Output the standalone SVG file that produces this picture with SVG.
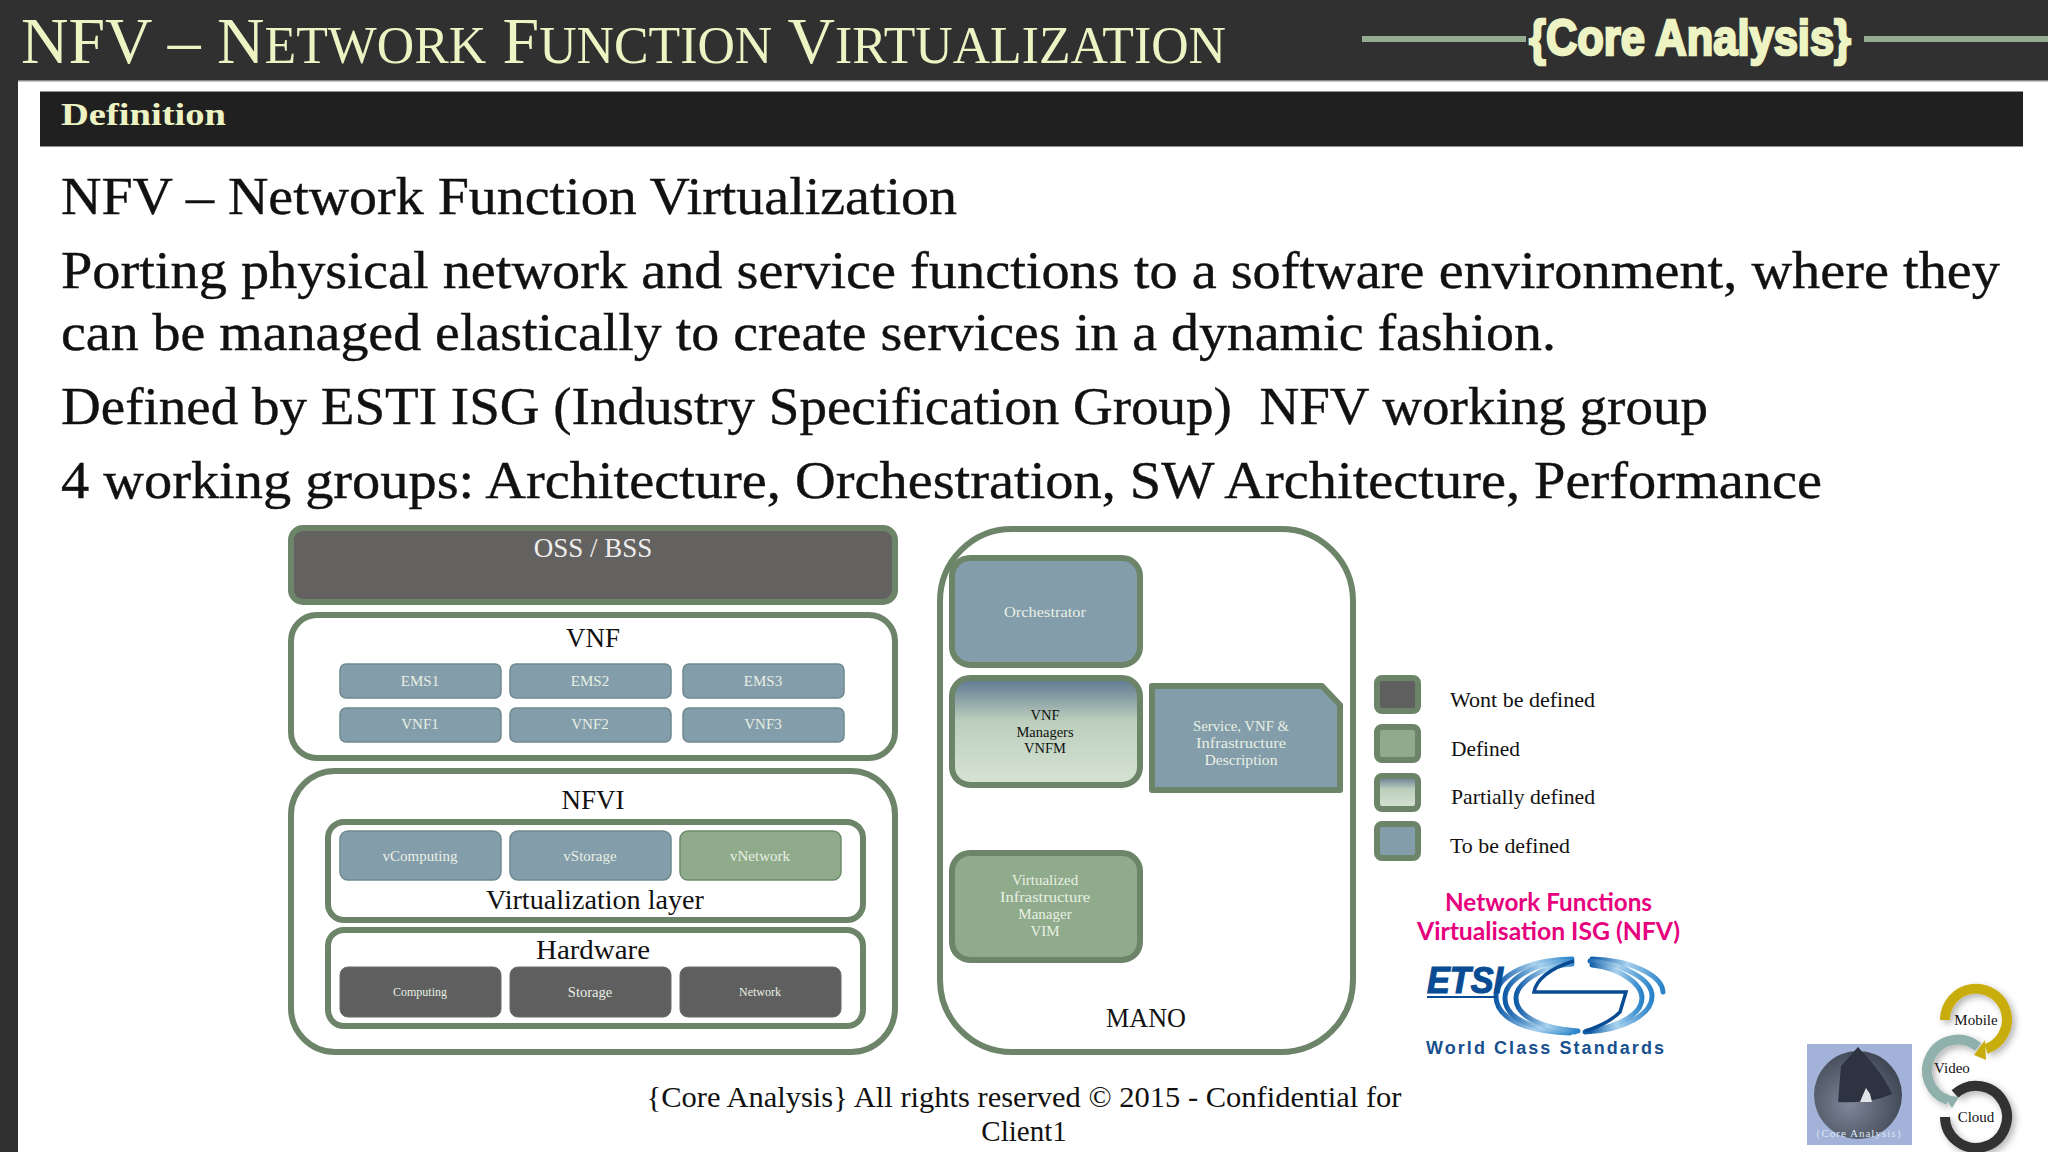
<svg xmlns="http://www.w3.org/2000/svg" width="2048" height="1152" viewBox="0 0 2048 1152">
<defs>
<linearGradient id="part" x1="0" y1="0" x2="0" y2="1"><stop offset="0" stop-color="#5c7690"/><stop offset="0.4" stop-color="#bccfbc"/><stop offset="1" stop-color="#d6e3d3"/></linearGradient>
<linearGradient id="etsiA" x1="0" y1="0" x2="1" y2="0"><stop offset="0" stop-color="#0d5aa7"/><stop offset="0.5" stop-color="#a9d2ee"/><stop offset="1" stop-color="#2a83c9"/></linearGradient>
<radialGradient id="sph" cx="0.4" cy="0.6" r="0.7"><stop offset="0" stop-color="#7d8799"/><stop offset="1" stop-color="#3a404c"/></radialGradient>
<filter id="sh" x="-30%" y="-30%" width="160%" height="160%"><feDropShadow dx="3" dy="3" stdDeviation="3.5" flood-color="#000" flood-opacity="0.3"/></filter>
<style>
text{font-family:"Liberation Serif","Times New Roman",serif}
.b{fill:#849dab;stroke:#6f8890;stroke-width:1.5}
.g{fill:#8fab8b;stroke:#6f8a6c;stroke-width:1.5}
.d{fill:#5f5f5f;stroke:#6a6a6a;stroke-width:1}
.c{fill:#fff;stroke:#6c8468;stroke-width:6}
.m{stroke:#6c8468;stroke-width:6}
.lg{stroke:#6c8468;stroke-width:6}
.t{text-anchor:middle;fill:#e8f0e4;font-size:15px}
.k{text-anchor:middle;fill:#111;font-size:27px}
.w{fill:#111;font-size:21px}
.body{fill:#111;font-size:52px;stroke:#111;stroke-width:.4}
.foot{fill:#111;font-size:29px;text-anchor:middle}
.cap{fill:#eef3c4}
.r{fill:none;stroke-width:10}
.s{fill:#111;font-size:14.5px;text-anchor:middle}
</style>
</defs>
<rect width="2048" height="1152" fill="#fff"/>
<g id="frame">
<rect width="2048" height="81" fill="#303030"/>
<rect y="80" width="2048" height="1.5" fill="#8a8a8a"/>
<rect width="18" height="1152" fill="#303030"/>
<rect x="40" y="91.5" width="1983" height="55" fill="#202020"/>
<rect x="1362" y="36" width="164" height="6" fill="#93ab8f"/>
<rect x="1864" y="36" width="184" height="6" fill="#93ab8f"/>
</g>
<g id="header">
<text class="cap" x="21" y="63" font-size="66" textLength="1205" lengthAdjust="spacingAndGlyphs">NFV – N<tspan font-size="52">ETWORK</tspan> F<tspan font-size="52">UNCTION</tspan> V<tspan font-size="52">IRTUALIZATION</tspan></text>
<text class="cap" x="1529" y="55" font-size="50" font-weight="700" stroke="#eef3c4" stroke-width="2.5" textLength="322" lengthAdjust="spacingAndGlyphs" style="font-family:'Liberation Sans',Arial,sans-serif">{Core Analysis}</text>
<text class="cap" x="61" y="125" font-size="32" font-weight="700" textLength="165" lengthAdjust="spacingAndGlyphs">Definition</text>
</g>
<g id="body-text">
<text class="body" x="61" y="214" textLength="896" lengthAdjust="spacingAndGlyphs">NFV – Network Function Virtualization</text>
<text class="body" x="61" y="288" textLength="1939" lengthAdjust="spacingAndGlyphs">Porting physical network and service functions to a software environment, where they</text>
<text class="body" x="61" y="350" textLength="1495" lengthAdjust="spacingAndGlyphs">can be managed elastically to create services in a dynamic fashion.</text>
<text class="body" x="61" y="424" textLength="1647" lengthAdjust="spacingAndGlyphs" xml:space="preserve">Defined by ESTI ISG (Industry Specification Group)  NFV working group</text>
<text class="body" x="61" y="498" textLength="1761" lengthAdjust="spacingAndGlyphs">4 working groups: Architecture, Orchestration, SW Architecture, Performance</text>
</g>
<g id="oss"><rect x="291" y="528" width="604" height="74" rx="12" fill="#636260" class="m"/><text x="593" y="557" text-anchor="middle" font-size="27" fill="#eee">OSS / BSS</text></g>
<g id="vnf"><rect class="c" x="291" y="615" width="604" height="143" rx="26"/><text class="k" x="593" y="647">VNF</text></g>
<g id="ems1"><rect class="b" x="340" y="664" width="161" height="34" rx="6"/><text class="t" x="420" y="686">EMS1</text></g>
<g id="ems2"><rect class="b" x="510" y="664" width="161" height="34" rx="6"/><text class="t" x="590" y="686">EMS2</text></g>
<g id="ems3"><rect class="b" x="683" y="664" width="161" height="34" rx="6"/><text class="t" x="763" y="686">EMS3</text></g>
<g id="vnf1"><rect class="b" x="340" y="708" width="161" height="34" rx="6"/><text class="t" x="420" y="729">VNF1</text></g>
<g id="vnf2"><rect class="b" x="510" y="708" width="161" height="34" rx="6"/><text class="t" x="590" y="729">VNF2</text></g>
<g id="vnf3"><rect class="b" x="683" y="708" width="161" height="34" rx="6"/><text class="t" x="763" y="729">VNF3</text></g>
<g id="nfvi"><rect class="c" x="291" y="771" width="604" height="281" rx="44"/><text class="k" x="593" y="809">NFVI</text></g>
<g id="virt"><rect class="c" x="328" y="822" width="535" height="98" rx="16"/><text class="k" x="595" y="909" textLength="218" lengthAdjust="spacingAndGlyphs">Virtualization layer</text></g>
<g id="vcomputing"><rect class="b" x="340" y="831" width="161" height="49" rx="8"/><text class="t" x="420" y="861">vComputing</text></g>
<g id="vstorage"><rect class="b" x="510" y="831" width="161" height="49" rx="8"/><text class="t" x="590" y="861">vStorage</text></g>
<g id="vnetwork"><rect class="g" x="680" y="831" width="161" height="49" rx="8"/><text class="t" x="760" y="861">vNetwork</text></g>
<g id="hardware"><rect class="c" x="328" y="930" width="535" height="96" rx="16"/><text class="k" x="593" y="959" textLength="114" lengthAdjust="spacingAndGlyphs">Hardware</text></g>
<g id="computing"><rect class="d" x="340" y="967" width="161" height="50" rx="8"/><text class="t" x="420" y="996" style="font-size:12px">Computing</text></g>
<g id="storage"><rect class="d" x="510" y="967" width="161" height="50" rx="8"/><text class="t" x="590" y="997" style="font-size:14.5px">Storage</text></g>
<g id="network"><rect class="d" x="680" y="967" width="161" height="50" rx="8"/><text class="t" x="760" y="996" style="font-size:12px">Network</text></g>
<g id="mano"><rect class="c" x="940" y="529" width="413" height="523" rx="72"/><text class="k" x="1146" y="1027" textLength="80" lengthAdjust="spacingAndGlyphs">MANO</text></g>
<g id="orchestrator"><rect class="m" x="952" y="558" width="188" height="107" rx="18" fill="#849dab"/><text class="t" x="1045" y="617" textLength="82" lengthAdjust="spacingAndGlyphs">Orchestrator</text></g>
<g id="vnfm"><rect class="m" x="952" y="678" width="188" height="107" rx="18" fill="url(#part)"/><text class="s" x="1045" y="720">VNF</text><text class="s" x="1045" y="737">Managers</text><text class="s" x="1045" y="753">VNFM</text></g>
<g id="catalog"><path class="m" d="M1152 686H1322L1340 705V790H1152Z" fill="#849dab" stroke-linejoin="round"/><text class="t" x="1241" y="731" textLength="96" lengthAdjust="spacingAndGlyphs">Service, VNF &amp;</text><text class="t" x="1241" y="748" textLength="90" lengthAdjust="spacingAndGlyphs">Infrastructure</text><text class="t" x="1241" y="765" textLength="73" lengthAdjust="spacingAndGlyphs">Description</text></g>
<g id="vim"><rect class="m" x="952" y="853" width="188" height="107" rx="18" fill="#8fab8b"/><text class="t" x="1045" y="885">Virtualized</text><text class="t" x="1045" y="902" textLength="90" lengthAdjust="spacingAndGlyphs">Infrastructure</text><text class="t" x="1045" y="919">Manager</text><text class="t" x="1045" y="936">VIM</text></g>
<g id="legend-wont"><rect class="lg" x="1377" y="678" width="41" height="33" rx="5" fill="#5f5f5f"/><text class="w" x="1450" y="707" textLength="145" lengthAdjust="spacingAndGlyphs">Wont be defined</text></g>
<g id="legend-defined"><rect class="lg" x="1377" y="727" width="41" height="33" rx="5" fill="#8fab8b"/><text class="w" x="1451" y="756" textLength="69" lengthAdjust="spacingAndGlyphs">Defined</text></g>
<g id="legend-partial"><rect class="lg" x="1377" y="776" width="41" height="33" rx="5" fill="url(#part)"/><text class="w" x="1451" y="804" textLength="144" lengthAdjust="spacingAndGlyphs">Partially defined</text></g>
<g id="legend-tbd"><rect class="lg" x="1377" y="824" width="41" height="34" rx="5" fill="#849dab"/><text class="w" x="1450" y="853" textLength="120" lengthAdjust="spacingAndGlyphs">To be defined</text></g>
<g id="etsi">
<text x="1548.5" y="911" text-anchor="middle" font-size="24" font-weight="700" fill="#e6007e" textLength="207" lengthAdjust="spacingAndGlyphs" style="font-family:Lato,'Liberation Sans',sans-serif">Network Functions</text>
<text x="1548.5" y="940" text-anchor="middle" font-size="24" font-weight="700" fill="#e6007e" textLength="263" lengthAdjust="spacingAndGlyphs" style="font-family:Lato,'Liberation Sans',sans-serif">Virtualisation ISG (NFV)</text>
<g fill="none" stroke="url(#etsiA)" stroke-linecap="round">
<path d="M1572 959C1520 960 1496 980 1496 996C1496 1020 1530 1032 1570 1033" stroke-width="5"/>
<path d="M1572 961C1530 962 1505 982 1505 998C1505 1020 1535 1030 1575 1032" stroke-width="5"/>
<path d="M1572 964C1540 966 1516 984 1516 998C1516 1016 1540 1028 1578 1031" stroke-width="5"/>
<path d="M1592 959C1630 960 1662 975 1663 992" stroke-width="5"/>
<path d="M1590 961C1625 964 1652 980 1652 996C1652 1014 1625 1030 1585 1032" stroke-width="5"/>
<path d="M1592 965C1620 968 1642 984 1642 998C1642 1014 1620 1026 1590 1031" stroke-width="5"/>
</g>
<path d="M1574 961C1550 968 1536 980 1534 992H1626L1620 1012C1610 1022 1595 1028 1585 1031" fill="none" stroke="#0a4c94" stroke-width="3.5"/>
<text x="1427" y="993" font-size="36" font-weight="700" font-style="italic" fill="#0a4c94" stroke="#0a4c94" stroke-width="1.2" textLength="76" lengthAdjust="spacingAndGlyphs" style="font-family:'Liberation Sans',Arial,sans-serif">ETSI</text>
<rect x="1427" y="996" width="70" height="2" fill="#0a4c94"/>
<text x="1426" y="1054" font-size="18" font-weight="700" fill="#17508f" textLength="238" style="font-family:'Liberation Sans',Arial,sans-serif">World Class Standards</text>
</g>
<g id="footer">
<text class="foot" x="1024" y="1107" textLength="755" lengthAdjust="spacingAndGlyphs">{Core Analysis} All rights reserved © 2015 - Confidential for</text>
<text class="foot" x="1024" y="1141">Client1</text>
</g>
<g id="corner-image">
<rect x="1807" y="1044" width="105" height="101" fill="#a3b2d8"/>
<circle cx="1858" cy="1095" r="44" fill="url(#sph)"/>
<path d="M1858 1047C1868 1058 1884 1075 1892 1094Q1870 1104 1838 1102L1841 1066Z" fill="#2d3340"/>
<path d="M1862 1097l4-9 4 6 2 8h-12z" fill="#dfe3ea"/>
<text x="1859" y="1137" text-anchor="middle" font-size="11" fill="#dfe5f2" letter-spacing="1">{Core Analysis}</text>
</g>
<g id="rings">
<path class="r" stroke="#333" filter="url(#sh)" d="M1945 1117A31 31 0 1 0 1955 1094"/>
<path class="r" stroke="#8fb0ab" filter="url(#sh)" d="M1978 1047A31 31 0 1 0 1948 1100"/>
<path d="M1943 1095L1952 1108L1959 1097Z" fill="#8fb0ab"/>
<path class="r" stroke="#c8ad0f" filter="url(#sh)" d="M1945 1020A31 31 0 1 1 1986 1049"/>
<path d="M1974 1055L1985 1040L1986 1060Z" fill="#c8ad0f"/>
<text x="1976" y="1025" text-anchor="middle" font-size="15" fill="#111">Mobile</text>
<text x="1952" y="1073" text-anchor="middle" font-size="15" fill="#111">Video</text>
<text x="1976" y="1122" text-anchor="middle" font-size="15" fill="#111">Cloud</text>
</g>
</svg>
